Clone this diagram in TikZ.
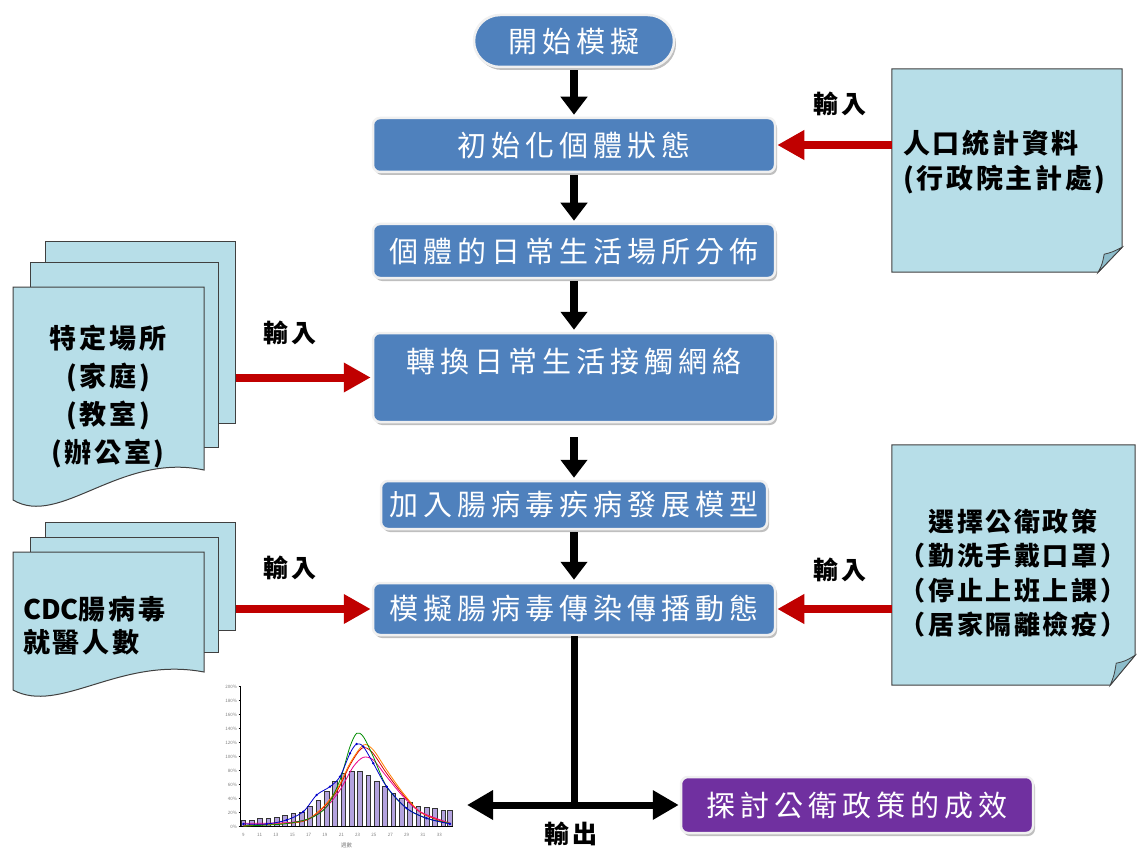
\documentclass[tikz,border=0pt]{standalone}
\usepackage{fontspec}
\newfontfamily\cjkbox[LetterSpace=17]{Noto Sans CJK TC}
\newfontfamily\cjknote[LetterSpace=10]{Noto Sans CJK TC}
\newfontfamily\cjkplain{Noto Sans CJK TC}
\usetikzlibrary{arrows.meta,shadows,shapes.misc}
\definecolor{boxblue}{HTML}{4F81BD}
\definecolor{noteaqua}{HTML}{B7DEE8}
\definecolor{notefold}{HTML}{8DBDCB}
\definecolor{redarr}{HTML}{C00000}
\definecolor{outpurple}{HTML}{7030A0}
\definecolor{edgegray}{HTML}{404040}
\definecolor{barfill}{HTML}{B3A2DE}
\begin{document}
\begin{tikzpicture}[x=1pt,y=-1pt,
  flowbox/.style={rectangle, rounded corners=7pt, fill=boxblue, draw=gray!12, line width=2.5pt,
    drop shadow={shadow xshift=2pt, shadow yshift=-3pt, fill=black, opacity=0.25},
    text=white, font=\cjkbox\fontsize{29}{32}\selectfont, inner sep=0pt},
  startbox/.style={rounded rectangle, fill=boxblue, draw=gray!12, line width=2.5pt,
    drop shadow={shadow xshift=2pt, shadow yshift=-3pt, fill=black, opacity=0.25},
    text=white, font=\cjkbox\fontsize{29}{32}\selectfont, inner sep=0pt},
  outbox/.style={rectangle, rounded corners=7pt, fill=outpurple, draw=gray!12, line width=2.5pt,
    drop shadow={shadow xshift=2pt, shadow yshift=-3pt, fill=black, opacity=0.25},
    text=white, font=\cjkbox\fontsize{29}{32}\selectfont, inner sep=0pt},
  downarr/.style={draw=black, line width=8pt, -{Triangle[width=26pt,length=18pt]}, shorten <=2pt, shorten >=2pt},
  redarrow/.style={draw=redarr, line width=8pt, -{Triangle[width=28pt,length=27pt]}, shorten >=1pt},
  dblarr/.style={draw=black, line width=7pt, {Triangle[width=28pt,length=26pt]}-{Triangle[width=28pt,length=26pt]}, shorten >=1pt},
  notefill/.style={fill=noteaqua, draw=edgegray, line width=1pt},
  foldfill/.style={fill=notefold, draw=edgegray, line width=0.8pt},
  placeholder/.style={draw=none, inner sep=0pt},
  notetext/.style={font=\cjknote\bfseries\fontsize{27}{35}\selectfont, text=black, inner sep=0pt},
  lbl/.style={font=\cjknote\bfseries\fontsize{25}{27}\selectfont, text=black, inner sep=0pt},
  docback/.style={rectangle, fill=noteaqua, draw=edgegray, line width=1pt, inner sep=0pt},
  bar/.style={fill=barfill, draw=black!80, line width=0.6pt},
  ticklab/.style={font=\cjkplain\fontsize{4.5}{5}\selectfont, text=gray, inner sep=0pt}
]
\useasboundingbox (0,0) rectangle (1137,850);
\fill[white] (0,0) rectangle (1137,850);

% ---------- main flow ----------
\node[startbox, minimum width=200pt, minimum height=52pt] (start) at (574,41) {開始模擬};
\node[flowbox, minimum width=402pt, minimum height=54pt] (b1) at (574,145) {初始化個體狀態};
\node[flowbox, minimum width=402pt, minimum height=54pt] (b2) at (574,251) {個體的日常生活場所分佈};
\node[flowbox, minimum width=402pt, minimum height=89pt, text height=26pt, text depth=37pt] (b3) at (574,377.5) {轉換日常生活接觸網絡};
\node[flowbox, minimum width=386pt, minimum height=48pt] (b4) at (574,505) {加入腸病毒疾病發展模型};
\node[flowbox, minimum width=402pt, minimum height=52pt] (b5) at (574,609) {模擬腸病毒傳染傳播動態};

\draw[downarr] (start.south) -- (b1.north);
\draw[downarr] (b1.south) -- (b2.north);
\draw[downarr] (b2.south) -- (b3.north);
\draw[downarr, shorten <=14pt] (b3.south) -- (b4.north);
\draw[downarr] (b4.south) -- (b5.north);

% ---------- output ----------
\node[outbox, minimum width=352pt, minimum height=56pt] (out) at (857,805) {探討公衛政策的成效};
\coordinate (junc) at (b5.south |- out.west);
\coordinate (outL) at (467,805);
\draw[line width=7pt] (b5.south) -- (junc);
\draw[dblarr] (outL) -- (out.west);
\node[lbl] (outlab) at (571,834) {輸出};

% ---------- right note 1 ----------
\node[placeholder, minimum width=230pt, minimum height=203pt] (note1) at (1007,170.5) {};
\draw[notefill] (note1.north west) -- (note1.north east) -- ([yshift=25pt]note1.south east)
  -- ([xshift=-24pt]note1.south east) -- (note1.south west) -- cycle;
\draw[foldfill] ([yshift=25pt]note1.south east) .. controls ([xshift=-10pt,yshift=20pt]note1.south east) .. ([xshift=-18pt,yshift=18pt]note1.south east)
  .. controls ([xshift=-20pt,yshift=8pt]note1.south east) .. ([xshift=-24pt]note1.south east) -- cycle;
\node[notetext, align=left, anchor=west] (note1t) at (903,162) {人口統計資料\\(行政院主計處)};
\draw[redarrow] (note1.west |- b1.east) -- (b1.east);
\node[lbl] (lab3) at (840,104) {輸入};

% ---------- right note 2 ----------
\node[placeholder, minimum width=243pt, minimum height=240pt] (note2) at (1013.5,565) {};
\draw[notefill] (note2.north west) -- (note2.north east) -- ([yshift=30pt]note2.south east)
  -- ([xshift=-25pt]note2.south east) -- (note2.south west) -- cycle;
\draw[foldfill] ([yshift=30pt]note2.south east) .. controls ([xshift=-10pt,yshift=24pt]note2.south east) .. ([xshift=-19pt,yshift=22pt]note2.south east)
  .. controls ([xshift=-21pt,yshift=10pt]note2.south east) .. ([xshift=-25pt]note2.south east) -- cycle;
\node[notetext, font=\cjknote\bfseries\fontsize{26}{34.5}\selectfont, align=center] (note2t) at (1013,573) {選擇公衛政策\\（勤洗手戴口罩）\\（停止上班上課）\\（居家隔離檢疫）};
\draw[redarrow] (note2.west |- b5.east) -- (b5.east);
\node[lbl] (lab4) at (840,570) {輸入};

% ---------- left stack 1 ----------
\node[docback, minimum width=190pt, minimum height=181pt] (d1c) at (140,332.5) {};
\node[docback, minimum width=188pt, minimum height=184pt] (d1b) at (124,355) {};
\draw[notefill] (13,287) -- (204,287) -- (204,470) .. controls (120,452) and (60,528) .. (13,500) -- cycle;
\node[notetext, font=\cjknote\bfseries\fontsize{27}{38}\selectfont, align=center] (d1t) at (108,397) {特定場所\\(家庭)\\(教室)\\(辦公室)};
\draw[redarrow] (d1c.east |- b3.west) -- (b3.west);
\node[lbl] (lab1) at (290,333) {輸入};

% ---------- left stack 2 ----------
\node[docback, minimum width=190pt, minimum height=108pt] (d2c) at (140,576) {};
\node[docback, minimum width=188pt, minimum height=115pt] (d2b) at (124,594.5) {};
\draw[notefill] (13,552) -- (204,552) -- (204,672) .. controls (120,656) and (60,715) .. (13,690) -- cycle;
\node[notetext, font=\cjknote\bfseries\fontsize{27}{33}\selectfont, align=left, anchor=west] (d2t) at (23,626) {{\cjkplain\bfseries CDC}腸病毒\\就醫人數};
\draw[redarrow] (d2c.east |- b5.west) -- (b5.west);
\node[lbl] (lab2) at (290,568) {輸入};

% ---------- chart ----------
\begin{scope}[shift={(200,680)}, x=0.3333pt, y=-0.3333pt]
  \foreach \x/\t in {130/420,155/422,180/415,205/415,230/412,255/405,280/400,305/397,330/378,355/360,380/335,405/305,430/280,455/273,480/273,505/285,530/305,555/320,580/340,605/355,630/368,655/378,680/382,705/385,730/392,750/392}
    \filldraw[bar] (\x-7,440) rectangle (\x+7,\t);
  \draw[black, line width=0.6pt] (122,20) -- (122,440) -- (760,440);
  \foreach \i in {0,...,10}{
    \pgfmathtruncatemacro\v{\i*20}
    \draw[black, line width=0.4pt] (116,440-42*\i) -- (122,440-42*\i);
    \node[ticklab, anchor=east] at (112,440-42*\i) {\v\%};
  }
  \foreach \lab [count=\k from 0] in {9,11,...,33}
    \node[ticklab] at (130+49*\k,465) {\lab};
  \node[ticklab, font=\cjkplain\fontsize{5.5}{6}\selectfont] at (440,495) {週數};
  \draw[red!85!black, line width=0.8pt] plot[smooth] coordinates {(130,436) (300,426) (360,392) (410,335) (450,255) (485,205) (515,215) (560,280) (610,345) (660,396) (720,422) (750,430)};
  \draw[orange, line width=0.8pt] plot[smooth] coordinates {(130,438) (300,425) (360,390) (410,330) (450,250) (490,195) (520,210) (560,270) (610,340) (660,395) (720,420) (750,430)};
  \draw[magenta, line width=0.8pt] plot[smooth] coordinates {(130,430) (260,428) (330,415) (380,380) (420,330) (460,260) (490,232) (520,240) (560,290) (610,350) (660,395) (750,430)};
  \draw[green!55!black, line width=0.8pt] plot[smooth] coordinates {(130,438) (250,432) (330,415) (380,380) (420,300) (450,200) (470,160) (490,170) (520,230) (560,320) (620,385) (680,415) (750,430)};
  \draw[blue!80!black, line width=0.8pt] plot[smooth, mark=*, mark size=0.7pt] coordinates {(130,432) (200,432) (260,420) (310,395) (350,345) (390,320) (420,290) (450,220) (470,192) (490,200) (520,250) (560,320) (620,385) (680,415) (750,432)};
\end{scope}
\end{tikzpicture}
\end{document}
